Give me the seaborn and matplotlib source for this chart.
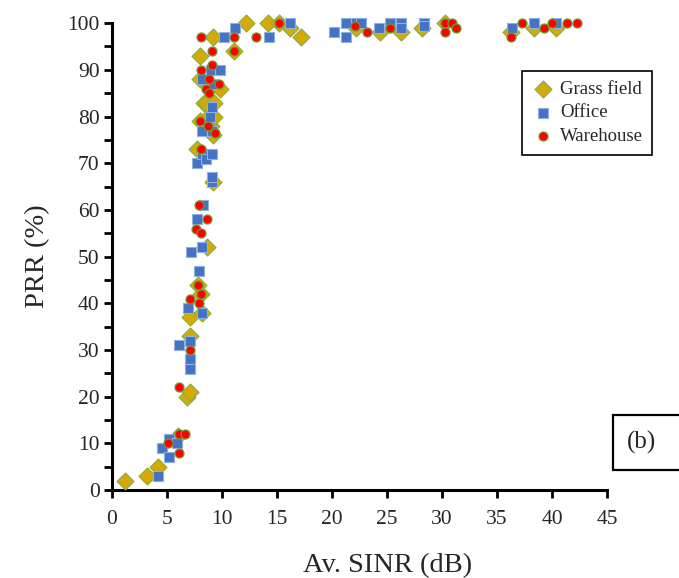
import matplotlib
matplotlib.use("Agg")
import matplotlib.pyplot as plt
import seaborn as sns
import pandas as pd
from matplotlib.ticker import MultipleLocator
from matplotlib.patches import Rectangle

sns.set_style("ticks")
plt.rcParams['font.family'] = ['Liberation Serif', 'DejaVu Serif']

grass_x = [1.2, 3.2, 4.2, 6.0, 6.8, 7.1, 7.1, 7.1, 7.8, 8.1, 8.2, 8.6, 9.2, 7.7, 8.0, 9.2, 9.0, 8.7, 9.3, 8.4, 8.5, 9.3,
           9.8, 8.0, 8.0, 9.2, 11.1, 12.2, 14.2, 15.2, 16.2, 17.2, 22.2, 24.4, 26.3, 28.2, 30.3, 36.3, 38.4, 40.4]
grass_y = [2, 3, 5, 11.5, 20, 21, 33, 37, 44, 42, 38, 52, 66, 73, 79, 76, 78, 80, 80, 83, 83, 83,
           86, 88, 93, 97, 94, 100, 100, 100, 99, 97, 99, 98, 98, 99, 100, 98, 99, 99]

office_x = [4.2, 4.5, 5.2, 5.2, 5.9, 6.1, 6.9, 7.1, 7.1, 7.1, 7.2, 7.9, 7.7, 8.3, 8.2, 8.2, 7.7, 8.2, 8.5, 9.1,
            9.1, 9.1, 8.2, 9.1, 8.9, 9.1, 8.2, 9.2, 9.0, 9.8, 10.2, 11.2, 14.3, 16.2, 20.2, 21.3, 21.3, 22.2,
            22.6, 24.3, 25.3, 26.3, 26.3, 28.4, 28.4, 36.4, 38.4, 40.4]
office_y = [3, 9, 7, 11, 10, 31, 39, 32, 28, 26, 51, 47, 58, 61, 52, 38, 70, 72, 71, 72,
            66, 67, 77, 77, 80, 82, 88, 87, 90, 90, 97, 99, 97, 100, 98, 100, 97, 100,
            100, 99, 100, 100, 99, 100, 99.3, 99, 100, 100]

ware_x = [5.1, 6.1, 6.1, 6.6, 6.1, 7.1, 7.1, 7.9, 7.8, 8.1, 8.6, 7.6, 8.1, 7.9, 8.1, 8.0, 8.7, 9.4, 8.5, 8.8,
          8.8, 9.7, 8.1, 9.1, 9.1, 8.1, 11.1, 11.1, 13.1, 15.2, 22.1, 23.2, 25.3, 30.3, 30.9, 31.3, 30.3,
          36.3, 37.3, 39.3, 40.0, 41.4, 42.3]
ware_y = [10, 8, 12, 12, 22, 30, 41, 40, 44, 42, 58, 56, 55, 61, 73, 79, 78, 76.5, 86, 85,
          88, 87, 90, 91, 94, 97, 97, 94, 97, 100, 99.4, 98, 99, 100, 100, 99, 98,
          97, 100, 99, 100, 100, 100]

x_ticks = list(range(0, 50, 5))
y_ticks = list(range(0, 110, 10))

df_g = pd.DataFrame({"x": grass_x, "y": grass_y})
df_o = pd.DataFrame({"x": office_x, "y": office_y})
df_w = pd.DataFrame({"x": ware_x, "y": ware_y})

fig = plt.figure(figsize=(6.79, 5.78), dpi=100)
ax = fig.add_axes([0.165, 0.152, 0.729, 0.808])

sns.scatterplot(data=df_g, x="x", y="y", ax=ax, marker="D", s=75, color="#D4A90A",
                edgecolor="#8AAE3C", linewidth=0.8, label="Grass field", zorder=3, clip_on=False)
sns.scatterplot(data=df_o, x="x", y="y", ax=ax, marker="s", s=62, color="#4472C4",
                edgecolor="#8FB0E0", linewidth=0.8, label="Office", zorder=4, clip_on=False)
sns.scatterplot(data=df_w, x="x", y="y", ax=ax, marker="o", s=42, color="#FF0000",
                edgecolor="#6E9A2E", linewidth=0.9, label="Warehouse", zorder=5, clip_on=False)

ax.set_xlim(0, 45)
ax.set_ylim(0, 100)
ax.set_xticks(x_ticks)
ax.set_yticks(y_ticks)
ax.yaxis.set_minor_locator(MultipleLocator(5))
ax.tick_params(axis="both", which="major", direction="out", length=6, width=2, labelsize=15.5,
               color="black", pad=3)
ax.tick_params(axis="x", which="major", pad=8)
ax.tick_params(axis="y", which="minor", direction="out", length=6, width=2, color="black")
sns.despine(ax=ax, top=True, right=True)
for sp in ("left", "bottom"):
    ax.spines[sp].set_linewidth(2.2)
    ax.spines[sp].set_color("black")

ax.set_xlabel("Av. SINR (dB)", fontsize=20.5)
ax.xaxis.set_label_coords(0.557, -0.135)
ax.set_ylabel("PRR (%)", fontsize=20.5, labelpad=12)

leg = ax.legend(loc="upper left", bbox_to_anchor=(0.81, 0.917), frameon=True, fancybox=False,
                edgecolor="black", fontsize=13.5, handletextpad=0.3, borderpad=0.5,
                labelspacing=0.35, handlelength=1.2, framealpha=1)
leg.get_frame().set_linewidth(1.2)

fig.patches.append(Rectangle((613 / 679, 1 - 470 / 578), 0.2, 55 / 578, transform=fig.transFigure,
                             facecolor="white", edgecolor="black", linewidth=1.6, zorder=10))
fig.text(642 / 679, 1 - 442 / 578, "(b)", fontsize=18, ha="center", va="center", zorder=11)

fig.savefig("out.png", dpi=100)
